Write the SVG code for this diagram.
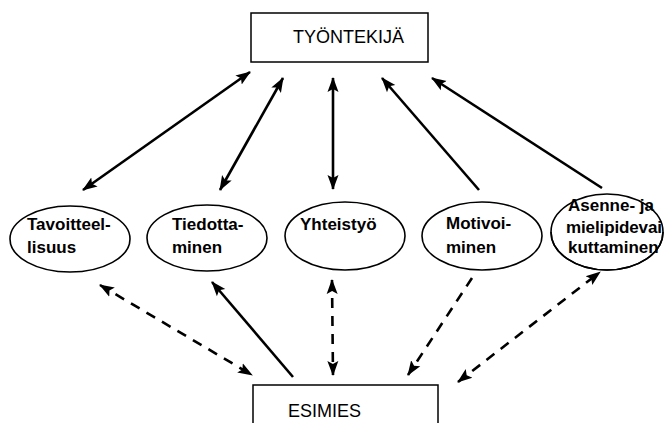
<svg xmlns="http://www.w3.org/2000/svg" width="665" height="423" viewBox="0 0 665 423">
<style>
.box{fill:#fff;stroke:#000;stroke-width:1.5}
.ell{fill:#fff;stroke:#000;stroke-width:1.6}
.bt{font-family:"Liberation Sans",Arial,sans-serif;font-size:18px;fill:#000}
.et{font-family:"Liberation Sans",Arial,sans-serif;font-size:17px;font-weight:bold;fill:#000}
.c{fill:none;stroke:#000;stroke-width:2.6}
.d{stroke-dasharray:10 8}
</style>
<defs>
<marker id="ah" markerUnits="userSpaceOnUse" markerWidth="16" markerHeight="14" refX="14" refY="5.5" orient="auto-start-reverse" viewBox="0 0 16 11">
<path d="M0,0 L15,5.5 L0,11 L3,5.5 z" fill="#000"/>
</marker>
</defs>
<rect width="665" height="423" fill="#fff"/>
<g id="connectors">
<line class="c" x1="83" y1="190" x2="250" y2="72" marker-start="url(#ah)" marker-end="url(#ah)"/>
<line class="c" x1="220" y1="190" x2="283" y2="78" marker-start="url(#ah)" marker-end="url(#ah)"/>
<line class="c" x1="333" y1="189" x2="333" y2="78" marker-start="url(#ah)" marker-end="url(#ah)"/>
<line class="c" x1="479" y1="190" x2="382" y2="78" marker-end="url(#ah)"/>
<line class="c" x1="602" y1="188" x2="432" y2="78" marker-end="url(#ah)"/>
<line class="c d" x1="100" y1="285" x2="252" y2="375" marker-start="url(#ah)" marker-end="url(#ah)"/>
<line class="c" x1="293" y1="377" x2="212" y2="282" marker-end="url(#ah)"/>
<line class="c d" x1="332" y1="280" x2="333" y2="375" marker-start="url(#ah)" marker-end="url(#ah)"/>
<line class="c d" x1="472" y1="278" x2="408" y2="375" marker-end="url(#ah)"/>
<line class="c d" x1="458" y1="382" x2="600" y2="272" marker-start="url(#ah)" marker-end="url(#ah)"/>
</g>
<g id="tyontekija">
<rect class="box" x="251" y="13" width="177" height="49"/>
<text class="bt" x="293" y="43">TYÖNTEKIJÄ</text>
</g>
<g id="esimies">
<rect class="box" x="253" y="385" width="185" height="50"/>
<text class="bt" x="288" y="417">ESIMIES</text>
</g>
<g id="tavoitteellisuus">
<ellipse class="ell" cx="70" cy="239" rx="60" ry="33"/>
<text class="et" x="27" y="230">Tavoitteel-</text>
<text class="et" x="27" y="253">lisuus</text>
</g>
<g id="tiedottaminen">
<ellipse class="ell" cx="207" cy="238" rx="60" ry="33"/>
<text class="et" x="172" y="230">Tiedotta-</text>
<text class="et" x="172" y="253">minen</text>
</g>
<g id="yhteistyo">
<ellipse class="ell" cx="345" cy="236" rx="60" ry="34"/>
<text class="et" x="300" y="230">Yhteistyö</text>
</g>
<g id="motivoiminen">
<ellipse class="ell" cx="482" cy="236" rx="60" ry="34"/>
<text class="et" x="446" y="229">Motivoi-</text>
<text class="et" x="446" y="253">minen</text>
</g>
<g id="asenne">
<ellipse class="ell" cx="607" cy="232" rx="56" ry="38"/>
<text class="et" x="568" y="211">Asenne- ja</text>
<text class="et" x="566" y="233" textLength="96">mielipidevai</text>
<text class="et" x="568" y="253">kuttaminen</text>
<path d="M551,232 A56,38 0 0 0 663,232" fill="none" stroke="#000" stroke-width="1.6"/>
</g>
</svg>
